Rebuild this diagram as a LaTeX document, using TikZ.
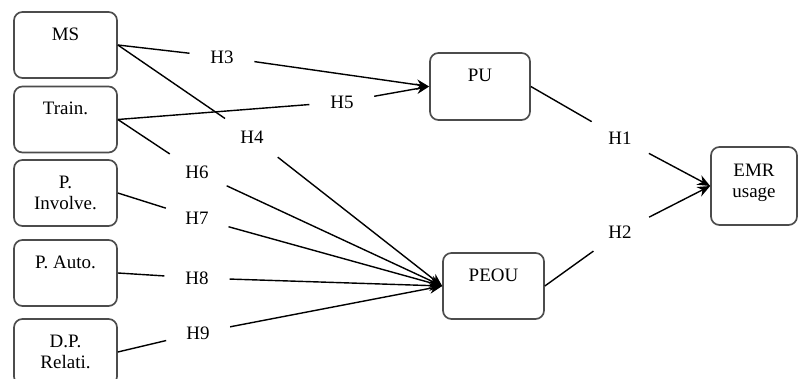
\documentclass[tikz,border=0pt]{standalone}
\usepackage{fontspec}
\setmainfont{Liberation Serif}
\usetikzlibrary{arrows.meta}

\def\boxwidth{2.575cm}
\def\boxheight{1.65cm}

\begin{document}
\begin{tikzpicture}[line width=1pt, >={Stealth[length=9pt,width=7.5pt]}, font=\fontsize{13.5}{15.5}\selectfont]
    \tikzstyle{construct}=[draw=black!70, line width=1.2pt, rounded corners=6pt, minimum width=\boxwidth, minimum height=\boxheight, align=center, inner sep=2pt]
    \tikzstyle{hyp}=[circle, minimum size=1.6cm, inner sep=0pt]

    \useasboundingbox (0,0) rectangle (19.975,9.475);

    \foreach \name / \y / \txt in {MS/8.35/{MS\\\phantom{M}}, Train/6.4875/{Train.\\\phantom{M}}, Inv/4.65/{P.\\Involve.}, Auto/2.65/{P. Auto.\\\phantom{M}}, Rel/0.675/{D.P.\\Relati.}}
        \node[construct] (\name) at (1.6375,\y) {\txt};

    \node[construct, minimum width=2.5cm, minimum height=1.675cm] (PU) at (12.0,7.3125) {PU\\\phantom{M}};
    \node[construct, minimum width=2.525cm] (PEOU) at (12.3375,2.325) {PEOU\\\phantom{M}};
    \node[construct, minimum width=2.15cm, minimum height=1.95cm] (EMR) at (18.85,4.825) {EMR\\usage\\[-8pt]\phantom{M}};

    \foreach \name / \x / \y in {H1/15.5/6.025, H2/15.5/3.675, H3/5.55/8.05, H4/6.3/6.05, H5/8.55/6.925, H6/4.925/5.175, H7/4.925/4.025, H8/4.925/2.525, H9/4.95/1.15}
        \node[hyp] (\name) at (\x,\y) {\name};

    \foreach \source / \h / \dest in {MS/H3/PU, MS/H4/PEOU, Train/H5/PU, Train/H6/PEOU, Inv/H7/PEOU, Auto/H8/PEOU, Rel/H9/PEOU, PU/H1/EMR, PEOU/H2/EMR}
    {
        \path[draw] (\source.east) -- (\h);
        \path[draw, ->] (\h) -- (\dest.west);
    }
\end{tikzpicture}
\end{document}
